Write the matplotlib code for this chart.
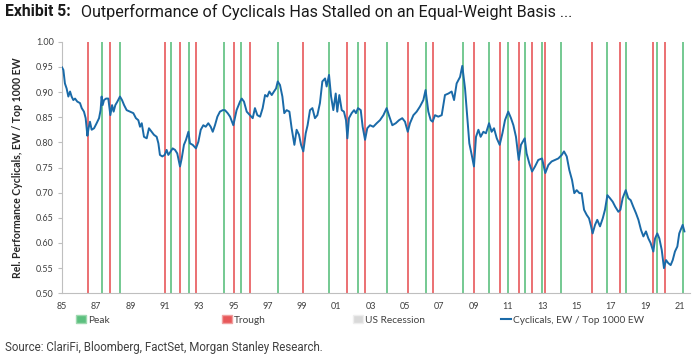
import matplotlib
matplotlib.use("Agg")
import matplotlib.pyplot as plt
from matplotlib.patches import Patch
from matplotlib.lines import Line2D

# ---------------- data ----------------
years = [
    1985.00, 1985.08, 1985.17, 1985.27, 1985.37, 1985.47, 1985.56, 1985.66, 1985.76, 1985.89,
    1986.05, 1986.15, 1986.28, 1986.38, 1986.48, 1986.55, 1986.63, 1986.73, 1986.87, 1987.02,
    1987.16, 1987.25, 1987.31, 1987.37, 1987.45, 1987.57, 1987.70, 1987.82, 1987.92, 1988.01,
    1988.11, 1988.23, 1988.38, 1988.50, 1988.62, 1988.77, 1988.96, 1989.16, 1989.31, 1989.45,
    1989.55, 1989.65, 1989.78, 1989.94, 1990.07, 1990.23, 1990.36, 1990.52, 1990.62, 1990.71,
    1990.85, 1990.99, 1991.10, 1991.20, 1991.34, 1991.45, 1991.59, 1991.72, 1991.88, 1991.98,
    1992.11, 1992.23, 1992.37, 1992.46, 1992.62, 1992.81, 1992.95, 1993.09, 1993.24, 1993.38,
    1993.53, 1993.67, 1993.79, 1993.92, 1994.06, 1994.21, 1994.37, 1994.50, 1994.66, 1994.80,
    1994.99, 1995.18, 1995.38, 1995.48, 1995.61, 1995.77, 1995.96, 1996.12, 1996.25, 1996.39,
    1996.55, 1996.70, 1996.84, 1996.97, 1997.09, 1997.23, 1997.36, 1997.48, 1997.58, 1997.71,
    1997.85, 1997.96, 1998.10, 1998.26, 1998.39, 1998.55, 1998.68, 1998.82, 1998.94, 1999.07,
    1999.21, 1999.32, 1999.46, 1999.60, 1999.75, 1999.89, 2000.04, 2000.18, 2000.34, 2000.43,
    2000.57, 2000.69, 2000.82, 2000.96, 2001.05, 2001.17, 2001.31, 2001.44, 2001.56, 2001.64,
    2001.73, 2001.89, 2002.03, 2002.14, 2002.26, 2002.42, 2002.53, 2002.67, 2002.80, 2002.96,
    2003.15, 2003.35, 2003.54, 2003.74, 2003.93, 2004.09, 2004.26, 2004.46, 2004.65, 2004.84,
    2005.00, 2005.16, 2005.29, 2005.49, 2005.68, 2005.87, 2006.07, 2006.20, 2006.36, 2006.50,
    2006.61, 2006.75, 2006.94, 2007.14, 2007.33, 2007.53, 2007.72, 2007.86, 2008.01, 2008.21,
    2008.34, 2008.50, 2008.63, 2008.75, 2008.89, 2009.02, 2009.14, 2009.28, 2009.41, 2009.57,
    2009.72, 2009.90, 2010.05, 2010.19, 2010.35, 2010.52, 2010.68, 2010.83, 2011.02, 2011.18,
    2011.32, 2011.47, 2011.63, 2011.76, 2011.98, 2012.09, 2012.25, 2012.41, 2012.58, 2012.77,
    2012.99, 2013.18, 2013.36, 2013.55, 2013.75, 2013.94, 2014.14, 2014.27, 2014.43, 2014.58,
    2014.74, 2014.87, 2015.01, 2015.17, 2015.30, 2015.44, 2015.59, 2015.73, 2015.85, 2015.94,
    2016.08, 2016.21, 2016.37, 2016.53, 2016.66, 2016.80, 2016.95, 2017.11, 2017.26, 2017.44,
    2017.56, 2017.69, 2017.87, 2018.02, 2018.16, 2018.31, 2018.47, 2018.61, 2018.76, 2018.90,
    2019.05, 2019.19, 2019.32, 2019.48, 2019.58, 2019.71, 2019.83, 2019.97, 2020.10, 2020.22,
    2020.35, 2020.49, 2020.61, 2020.74, 2020.88, 2020.99, 2021.11, 2021.19, 2021.29,
]
rel_perf = [
    0.949, 0.944, 0.917, 0.907, 0.891, 0.901, 0.891, 0.884, 0.887, 0.881,
    0.878, 0.868, 0.861, 0.848, 0.813, 0.828, 0.841, 0.825, 0.828, 0.838,
    0.848, 0.864, 0.891, 0.874, 0.884, 0.887, 0.887, 0.854, 0.874, 0.861,
    0.874, 0.881, 0.891, 0.884, 0.874, 0.864, 0.861, 0.858, 0.848, 0.844,
    0.831, 0.838, 0.811, 0.808, 0.828, 0.821, 0.815, 0.811, 0.798, 0.775,
    0.772, 0.775, 0.785, 0.775, 0.782, 0.788, 0.785, 0.778, 0.752, 0.768,
    0.795, 0.805, 0.821, 0.798, 0.795, 0.788, 0.801, 0.825, 0.834, 0.831,
    0.838, 0.831, 0.821, 0.834, 0.851, 0.861, 0.864, 0.864, 0.858, 0.851,
    0.834, 0.864, 0.881, 0.887, 0.881, 0.861, 0.854, 0.848, 0.868, 0.854,
    0.851, 0.868, 0.894, 0.891, 0.901, 0.894, 0.901, 0.907, 0.921, 0.914,
    0.891, 0.858, 0.864, 0.861, 0.828, 0.795, 0.825, 0.815, 0.795, 0.782,
    0.818, 0.834, 0.864, 0.868, 0.848, 0.854, 0.878, 0.921, 0.927, 0.911,
    0.934, 0.891, 0.864, 0.897, 0.861, 0.894, 0.864, 0.861, 0.844, 0.808,
    0.848, 0.858, 0.864, 0.858, 0.868, 0.864, 0.831, 0.805, 0.828, 0.834,
    0.831, 0.838, 0.844, 0.854, 0.868, 0.851, 0.834, 0.838, 0.844, 0.848,
    0.841, 0.821, 0.838, 0.854, 0.861, 0.871, 0.884, 0.904, 0.861, 0.844,
    0.841, 0.854, 0.851, 0.854, 0.894, 0.897, 0.901, 0.884, 0.917, 0.930,
    0.952, 0.907, 0.851, 0.798, 0.775, 0.752, 0.811, 0.825, 0.811, 0.821,
    0.818, 0.838, 0.821, 0.828, 0.808, 0.795, 0.818, 0.844, 0.861, 0.848,
    0.834, 0.811, 0.765, 0.795, 0.808, 0.778, 0.758, 0.742, 0.752, 0.765,
    0.768, 0.739, 0.755, 0.762, 0.765, 0.768, 0.775, 0.782, 0.772, 0.745,
    0.725, 0.699, 0.705, 0.699, 0.699, 0.666, 0.656, 0.649, 0.633, 0.619,
    0.636, 0.646, 0.633, 0.649, 0.666, 0.695, 0.689, 0.682, 0.672, 0.662,
    0.666, 0.689, 0.705, 0.689, 0.685, 0.672, 0.659, 0.646, 0.626, 0.613,
    0.623, 0.609, 0.600, 0.583, 0.609, 0.619, 0.609, 0.586, 0.550, 0.566,
    0.560, 0.556, 0.566, 0.583, 0.593, 0.619, 0.629, 0.636, 0.623,
]
peak_dates = [1987.31, 1988.40, 1991.37, 1992.39, 1994.45, 1995.46, 1997.58, 2000.57,
              2002.28, 2003.93, 2006.22, 2008.36, 2009.90, 2011.01, 2012.02, 2012.99,
              2014.08, 2016.80, 2017.89, 2019.68, 2021.19]
trough_dates = [1986.50, 1987.82, 1990.99, 1991.90, 1992.81, 1995.01, 1995.96, 1999.07,
                2001.64, 2002.67, 2005.18, 2006.61, 2009.02, 2010.52, 2011.63, 2012.41,
                2013.18, 2015.92, 2017.54, 2019.48, 2020.14]
tick_years = list(range(1985, 2022, 2))
tick_labels = [f"{y % 100:02d}" for y in tick_years]
y_ticks = [0.50, 0.55, 0.60, 0.65, 0.70, 0.75, 0.80, 0.85, 0.90, 0.95, 1.00]

title_bold = "Exhibit 5:"
title_rest = "Outperformance of Cyclicals Has Stalled on an Equal-Weight Basis ..."
ylabel = "Rel. Performance Cyclicals, EW / Top 1000 EW"
series_name = "Cyclicals, EW / Top 1000 EW"
source = "Source: ClariFi, Bloomberg, FactSet, Morgan Stanley Research."

# ---------------- style ----------------
GREEN = "#5cc07f"
RED = "#e8585a"
BLUE = "#1a6aa8"
GREY = "#d9d9d9"
TXT = "#404040"
small_font = "Lato"

fig = plt.figure(figsize=(7, 3.6), dpi=100)
ax = fig.add_axes([62 / 700, (360 - 293.3) / 360, (689.7 - 62) / 700, (293.3 - 41.7) / 360])

for d in peak_dates:
    ax.axvline(d, color=GREEN, lw=1.2, zorder=1)
for d in trough_dates:
    ax.axvline(d, color=RED, lw=1.2, zorder=1)
ax.plot(years, rel_perf, color=BLUE, lw=1.4, zorder=3)

ax.set_xlim(1985, 2021.6)
ax.set_ylim(0.5, 1.0)
ax.set_xticks(tick_years)
ax.set_xticklabels(tick_labels, fontsize=6.5, color=TXT, family=small_font)
ax.set_yticks(y_ticks)
ax.set_yticklabels([f"{v:.2f}" for v in y_ticks], fontsize=6.5, color=TXT, family=small_font)
ax.tick_params(axis="y", length=3, color="#bfbfbf", pad=3)
ax.tick_params(axis="x", length=0, pad=6)
for s in ["top", "right"]:
    ax.spines[s].set_visible(False)
for s in ["left", "bottom"]:
    ax.spines[s].set_color("#bfbfbf")
    ax.spines[s].set_linewidth(0.8)
ax.set_ylabel(ylabel, fontsize=7.6, fontweight="bold", color="#262626", family=small_font, labelpad=9)

# title
fig.text(5 / 700, 1 - 12 / 360, title_bold, fontsize=11.3, fontweight="bold", family="Roboto",
         va="center", ha="left", color="#1a1a1a")
fig.text(81 / 700, 1 - 12 / 360, title_rest, fontsize=11.6, family="Roboto",
         va="center", ha="left", color="#1a1a1a")

# legend (separate entries placed like the reference)
entries = [
    (Patch(facecolor=GREEN, edgecolor="#9fd9b0"), "Peak", 76),
    (Patch(facecolor=RED, edgecolor="#f0a0a0"), "Trough", 222),
    (Patch(facecolor=GREY, edgecolor="#eeeeee"), "US Recession", 353),
    (Line2D([0], [0], color=BLUE, lw=1.5), series_name, 501),
]
for h, lab, xp in entries:
    lg = fig.legend([h], [lab], loc="center left", bbox_to_anchor=(xp / 700, 1 - 320 / 360),
                    frameon=False, handlelength=1.0, handleheight=0.8,
                    handletextpad=0.2, borderpad=0, borderaxespad=0,
                    prop={"family": small_font, "size": 7.3})
    for t in lg.get_texts():
        t.set_color(TXT)

fig.text(5 / 700, 1 - 348 / 360, source, fontsize=8.3, family="Roboto", color="#404040",
         va="center", ha="left")

fig.savefig("out.png", dpi=100)
